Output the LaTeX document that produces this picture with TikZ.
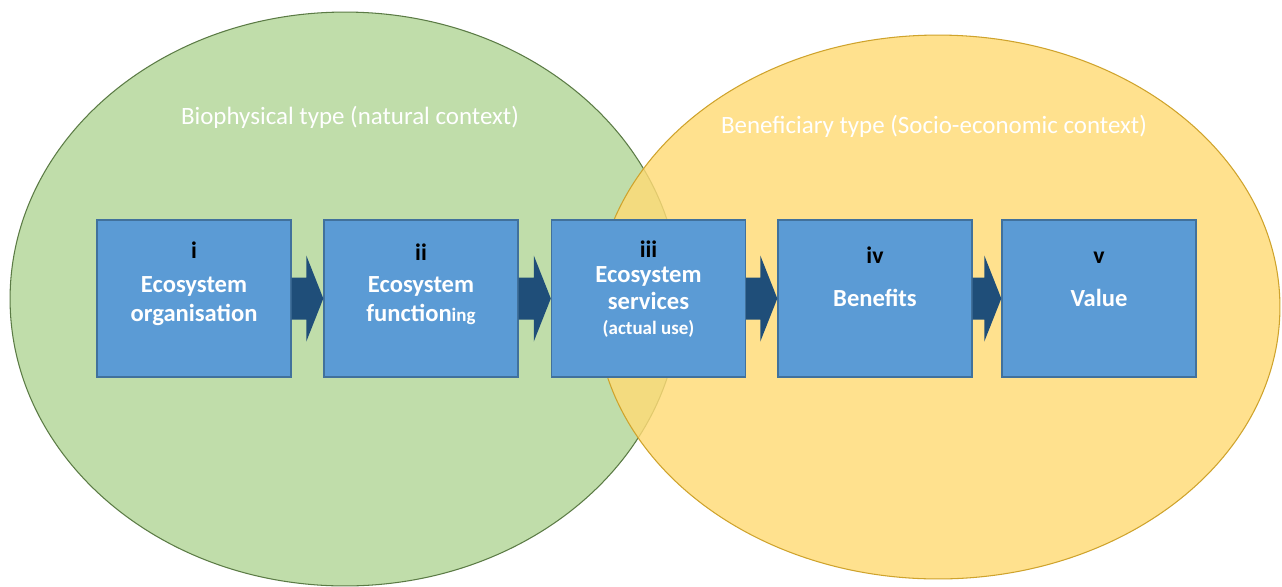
\documentclass[tikz,border=0pt]{standalone}
\usepackage{fontspec}
\setmainfont{Carlito}
\usetikzlibrary{calc,positioning}
\definecolor{bioGreen}{HTML}{C0DDAA}
\definecolor{bioEdge}{HTML}{5B7B45}
\definecolor{beneYellow}{HTML}{FFDB76}
\definecolor{beneEdge}{HTML}{CFA32C}
\definecolor{boxBlue}{HTML}{5B9BD5}
\definecolor{boxEdge}{HTML}{41719C}
\definecolor{flowBlue}{HTML}{1F4E79}

\begin{document}
\begin{tikzpicture}[x=0.02cm,y=-0.02cm,
  stage/.style={draw=boxEdge,fill=boxBlue,line width=0.8pt,minimum width=3.88cm,minimum height=3.14cm,inner sep=0pt},
  numtext/.style={anchor=base,inner sep=0pt,font=\bfseries\fontsize{13.5}{16}\selectfont,text=black},
  stagetext/.style={anchor=base,inner sep=0pt,font=\bfseries\fontsize{14}{16}\selectfont,text=white},
  smalltext/.style={anchor=base,inner sep=0pt,font=\bfseries\fontsize{10.8}{13}\selectfont,text=white},
  typetext/.style={anchor=base,inner sep=0pt,font=\fontsize{14.2}{16}\selectfont,text=white},
  flowarrow/.style={fill=flowBlue}]
  % canvas and clipping
  \useasboundingbox (0,0) rectangle (1282,586);
  \fill[white] (0,0) rectangle (1282,586);
  \clip (0,0) rectangle (1282,586);

  % the two contexts
  \draw[bioEdge,fill=bioGreen,line width=0.6pt] (345,299) ellipse [x radius=6.7cm,y radius=5.74cm];
  \draw[beneEdge,fill=beneYellow,fill opacity=0.82,line width=0.6pt] (938,307) ellipse [x radius=6.84cm,y radius=5.44cm];
  \node[typetext] (biotitle) at (350,124) {Biophysical type (natural context)};
  \node[typetext] (benetitle) at (934,133) {Beneficiary type (Socio-economic context)};

  % cascade stages
  \node[stage] (b1) at (194,298.5) {};
  \node[stage] (b2) at (421,298.5) {};
  \node[stage] (b3) at (648.5,298.5) {};
  \node[stage] (b4) at (875,298.5) {};
  \node[stage] (b5) at (1099,298.5) {};

  % block arrows between stages
  \foreach \a/\b in {b1/b2,b2/b3,b3/b4,b4/b5}
    \fill[flowarrow] ($(\a.east)+(0,-21)$) -- ($(\b.west)+(-17,-21)$) -- ($(\b.west)+(-17,-43)$)
      -- (\b.west) -- ($(\b.west)+(-17,43)$) -- ($(\b.west)+(-17,21)$) -- ($(\a.east)+(0,21)$) -- cycle;

  % labels
  \node[numtext] (n1) at (194,258) {i};
  \node[stagetext] (e1) at (194,292) {Ecosystem};
  \node[stagetext] (o1) at (194,321) {organisation};

  \node[numtext] (n2) at (421,260) {ii};
  \node[stagetext] (e2) at (421,292) {Ecosystem};
  \node[stagetext] (f2) at (421,321) {function{\fontsize{10.8}{13}\selectfont ing}};

  \node[numtext] (n3) at (648.5,257) {iii};
  \node[stagetext] (e3) at (648.5,282) {Ecosystem};
  \node[stagetext] (s3) at (648.5,309) {services};
  \node[smalltext] (u3) at (648.5,334) {(actual use)};

  \node[numtext] (n4) at (875,263) {iv};
  \node[stagetext] (t4) at (875,306) {Benefits};

  \node[numtext] (n5) at (1099,263) {v};
  \node[stagetext] (t5) at (1099,306) {Value};
\end{tikzpicture}
\end{document}
